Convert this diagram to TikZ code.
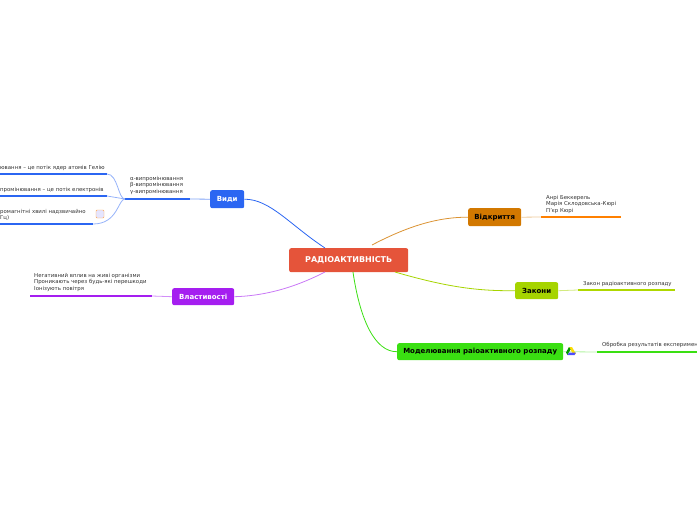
\documentclass[tikz,border=0pt]{standalone}
\usepackage{fontspec}
\setmainfont{DejaVu Sans}
\begin{document}
\begin{tikzpicture}[x=1pt,y=-1pt,
 topic/.style={rounded corners=2pt,text=white,font=\fontsize{7}{8}\selectfont\bfseries,inner sep=0pt,anchor=north west},
 leaf/.style={font=\fontsize{5.4}{6.6}\selectfont,text=black!80,align=left,anchor=north west,inner sep=0pt},
 ll/.style={line width=2.2pt},
 cn/.style={line width=0.8pt}]
\useasboundingbox (0,0) rectangle (697,520);
\clip (0,0) rectangle (697,520);
\definecolor{cred}{HTML}{E5543A}\definecolor{cblue}{HTML}{2B66F2}
\definecolor{cpur}{HTML}{A51EF0}\definecolor{corg}{HTML}{D27800}
\definecolor{cyel}{HTML}{A6D400}\definecolor{cgrn}{HTML}{3ADF12}
% topics
\node[topic,fill=cred,minimum width=119pt,minimum height=24pt,font=\fontsize{8}{9}\selectfont\bfseries] (c) at (289,248) {РАДІОАКТИВНІСТЬ};
\node[topic,fill=cblue,minimum width=34pt,minimum height=18pt] (v) at (210,190) {Види};
\node[topic,fill=cpur,minimum width=62pt,minimum height=17pt] (p) at (172,288) {Властивості};
\node[topic,fill=corg,minimum width=53pt,minimum height=18pt,text=black] (d) at (468,208) {Відкриття};
\node[topic,fill=cyel,minimum width=43pt,minimum height=17pt,text=black] (z) at (515,282) {Закони};
\node[topic,fill=cgrn,minimum width=166pt,minimum height=17pt,text=black] (m) at (397,343) {Моделювання раіоактивного розпаду};
% connectors
\coordinate (c1) at (325,248);\coordinate (c2) at (325,272);\coordinate (c3) at (372,245);
\coordinate (c4) at (395,272);\coordinate (c5) at (353,272);
\draw[cn,cblue] (c1) .. controls (290,225) and (270,199) .. (v.east);
\draw[cn,cpur!60] (c2) .. controls (290,290) and (260,296) .. (p.east);
\draw[cn,corg!80] (c3) .. controls (410,225) and (440,217) .. (d.west);
\draw[cn,cyel] (c4) .. controls (450,288) and (480,291) .. (z.west);
\draw[cn,cgrn] (c5) .. controls (360,320) and (375,352) .. (m.west);
% Види leaves
\coordinate (va) at (125,199);\coordinate (vb) at (190,199);
\draw[cn,cblue!60] (vb) -- (v.west);
\draw[ll,cblue] (va) -- (vb);
\node[leaf] (vt) at (130,176) {α-випромінювання\\β-випромінювання\\γ-випромінювання};
\coordinate (a1) at (107,174);\coordinate (a2) at (107,196);\coordinate (a3) at (93,224);
\draw[cn,cblue!50] (va) .. controls (118,199) and (118,174) .. (a1);
\draw[cn,cblue!50] (va) -- (a2);
\draw[cn,cblue!50] (va) .. controls (118,199) and (118,224) .. (a3);
\coordinate (a0) at (0,174);\coordinate (b0) at (0,196);\coordinate (e0) at (0,224);
\draw[ll,cblue] (a0) -- (a1);\draw[ll,cblue] (b0) -- (a2);\draw[ll,cblue] (e0) -- (a3);
\node[leaf] (t1) at (0,165) {ювання – це потік ядер атомів Гелію};
\node[leaf] (t2) at (0,187) {промінювання – це потік електронів};
\node[leaf] (t3) at (0,209) {ромагнітні хвилі надзвичайно\\Гц)};
\node[draw=orange!70,fill=blue!10,rounded corners=1pt,minimum width=8pt,minimum height=8pt,inner sep=0pt] (ic) at (100,214) {};
% Властивості leaf
\coordinate (p0) at (30,296);\coordinate (p1) at (152,296);
\draw[ll,cpur] (p0) -- (p1);\draw[cn,cpur!50] (p1) -- (p.west);
\node[leaf] (pt) at (34,273) {Негативний вплив на живі організми\\Проникають через будь-які перешкоди\\Іонізують повітря};
% Відкриття leaf
\coordinate (d0) at (541,217);\coordinate (d1) at (621,217);
\draw[cn,corg!40] (d.east) -- (d0);\draw[ll,orange] (d0) -- (d1);
\node[leaf] (dt) at (546,195) {Анрі Беккерель\\Марія Склодовська-Кюрі\\П’єр Кюрі};
% Закони leaf
\coordinate (z0) at (578,290);\coordinate (z1) at (675,290);
\draw[cn,cyel!50] (z.east) -- (z0);\draw[ll,cyel!90!yellow] (z0) -- (z1);
\node[leaf] (zt) at (583,281) {Закон радіоактивного розпаду};
% Моделювання leaf
\coordinate (m0) at (597,352);\coordinate (m1) at (697,352);
\draw[cn,cgrn!40] (m.east) -- (m0);\draw[ll,cgrn] (m0) -- (m1);
\node[leaf] (mt) at (602,342) {Обробка результатів  експеримен};
% drive icon
\fill[yellow!80!orange] (569,347) -- (572,347) -- (576,354) -- (573,354) -- cycle;
\fill[green!60!black] (569,347) -- (570.5,349.5) -- (567.5,355) -- (566,352.5) -- cycle;
\fill[blue!70] (567.5,355) -- (574.5,355) -- (576,352.5) -- (569,352.5) -- cycle;
\end{tikzpicture}
\end{document}
